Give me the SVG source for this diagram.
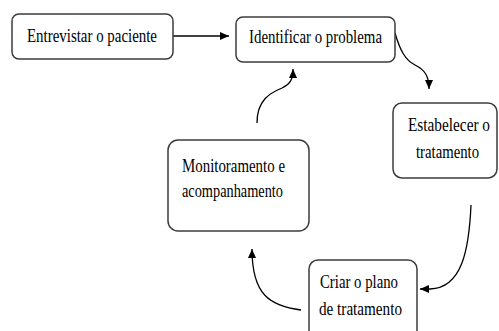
<svg xmlns="http://www.w3.org/2000/svg" width="499" height="331" viewBox="0 0 499 331">
<style>
.box{fill:#fff;stroke:#3c3c3c;stroke-width:1.5}
.t{font-family:"Liberation Serif","Times New Roman",serif;font-size:18px;fill:#000}
.c{fill:none;stroke:#000;stroke-width:1.3}
</style>
<defs>
<marker id="ah" markerUnits="userSpaceOnUse" markerWidth="10" markerHeight="8" refX="9" refY="4" orient="auto">
<path d="M0,0 L9,4 L0,8 Z" fill="#000"/>
</marker>
</defs>
<rect width="499" height="331" fill="#fff"/>
<g id="connectors">
<path class="c" d="M173,36 L229,36" marker-end="url(#ah)"/>
<path class="c" d="M395,33 C400,50 405,60 415,65 C425,70 429,76 429,89" marker-end="url(#ah)"/>
<path class="c" d="M471,205 C469,250 462,288 430,289 L420,289" marker-end="url(#ah)"/>
<path class="c" d="M301,310 C270,306 252,295 252,249" marker-end="url(#ah)"/>
<path class="c" d="M257,123 C257,100 270,93 282,88 C290,84 293,80 293,69" marker-end="url(#ah)"/>
</g>
<g id="n1">
<rect class="box" x="12" y="14" width="161" height="45" rx="7"/>
<text class="t" x="27" y="42" textLength="130" lengthAdjust="spacingAndGlyphs">Entrevistar o paciente</text>
</g>
<g id="n2">
<rect class="box" x="236" y="17" width="159" height="45" rx="7"/>
<text class="t" x="249" y="43" textLength="133" lengthAdjust="spacingAndGlyphs">Identificar o problema</text>
</g>
<g id="n3">
<rect class="box" x="393" y="103" width="104" height="75" rx="9"/>
<text class="t" x="408" y="131" textLength="82" lengthAdjust="spacingAndGlyphs">Estabelecer o</text>
<text class="t" x="416" y="158" textLength="63" lengthAdjust="spacingAndGlyphs">tratamento</text>
</g>
<g id="n4">
<rect class="box" x="309" y="260" width="108" height="80" rx="9"/>
<text class="t" x="320" y="288" textLength="78" lengthAdjust="spacingAndGlyphs">Criar o plano</text>
<text class="t" x="319" y="315" textLength="83" lengthAdjust="spacingAndGlyphs">de tratamento</text>
</g>
<g id="n5">
<rect class="box" x="168" y="140" width="141" height="91" rx="10"/>
<text class="t" x="182" y="172" textLength="103" lengthAdjust="spacingAndGlyphs">Monitoramento e</text>
<text class="t" x="182" y="197" textLength="101" lengthAdjust="spacingAndGlyphs">acompanhamento</text>
</g>
</svg>
